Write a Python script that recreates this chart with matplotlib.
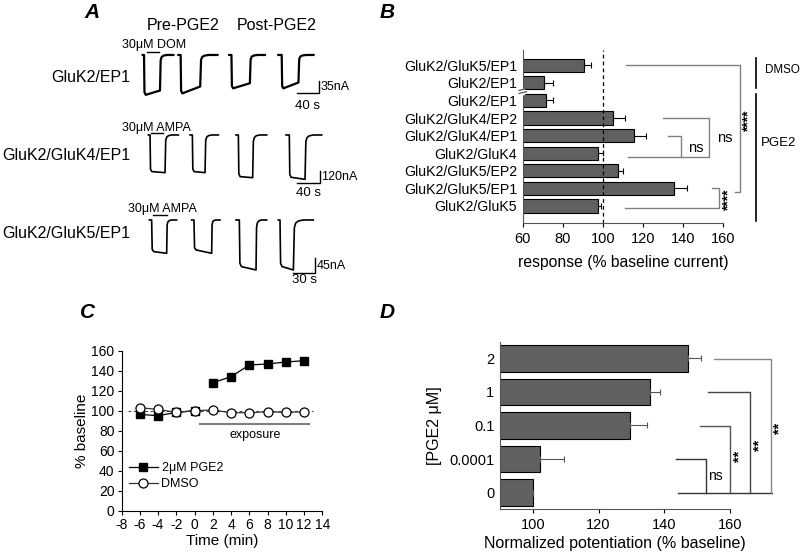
import matplotlib
matplotlib.use('Agg')
import matplotlib.pyplot as plt

plt.rcParams['font.family'] = ['Liberation Sans', 'DejaVu Sans']
plt.rcParams['axes.unicode_minus'] = False

W, H = 800, 553

# ---- panel A: traces (time in s, current in nA), one list per row ----
row1_start = [0, 64, 155, 243]
row1_on = [2.4, 68, 159, 249]
row1_off = [31, 103, 192, 279]
row1_stop = [55, 134, 219, 306]
row1_peak = [-110, -106, -92, -92]
row1_end = [-98, -87, -78, -76]

row2_start = [0, 71.4, 150.2, 235.8]
row2_on = [2.9, 75.4, 154.2, 241.5]
row2_off = [28.6, 97.1, 178.7, 268.4]
row2_stop = [51.4, 120, 202.7, 297]
row2_peak = [-356, -356, -405, -411]
row2_end = [-366, -366, -415, -431]

row3_start = [0, 58.6, 120, 178.6]
row3_on = [3.2, 61.8, 124.6, 180.9]
row3_off = [24, 86.3, 147.7, 199.4]
row3_stop = [37.8, 97.8, 162.5, 227]
row3_peak = [-95, -90, -140, -140]
row3_end = [-100, -100, -150, -150]

# ---- panel B ----
b_labels = ['GluK2/GluK5/EP1', 'GluK2/EP1', 'GluK2/EP1', 'GluK2/GluK4/EP2',
            'GluK2/GluK4/EP1', 'GluK2/GluK4', 'GluK2/GluK5/EP2',
            'GluK2/GluK5/EP1', 'GluK2/GluK5']
b_values = [90.6, 70.8, 71.5, 104.9, 115.6, 97.4, 107.5, 135.6, 97.8]
b_err = [3.4, 4.5, 3.8, 6.4, 5.9, 2.5, 2.8, 6.4, 1.2]

# ---- panel C ----
c_time = [-6, -4, -2, 0, 2, 4, 6, 8, 10, 12]
c_pge2 = [96.3, 95, 98.3, 100, 128, 134, 145.7, 146.7, 148.7, 150]
c_dmso = [103, 101.3, 98.3, 100, 100.7, 98, 98, 99, 98.3, 99]

# ---- panel D ----
d_labels = ['0', '0.0001', '0.1', '1', '2']
d_values = [100, 102.2, 129.7, 135.8, 147.1]
d_err = [0, 7.2, 4.9, 2.8, 4.1]


def box(x0, y0, x1, y1):
    return [x0 / W, 1 - y1 / H, (x1 - x0) / W, (y1 - y0) / H]


def ftxt(x, y, s, **kw):
    fig.text(x / W, 1 - y / H, s, **kw)


def trace(ax, start, on, off, stop, peak, end, lw):
    dur = stop - off
    t = [start, on, on + 0.8, on + 3, off, off + 0.05 * dur, off + 0.12 * dur,
         off + 0.25 * dur, off + 0.5 * dur, stop]
    i = [0, 0, 0.93 * peak, peak, end, 0.15 * end, 0.06 * end, 0.02 * end, 0, 0]
    ax.plot(t, i, color='black', lw=lw, solid_joinstyle='round')


fig = plt.figure(figsize=(8, 5.53), dpi=100)

# ================= A =================
rows = [
    dict(box=(140, 38.3, 330, 110), xlim=(-4.8, 335.5), ylim=(-151.8, 46),
         data=(row1_start, row1_on, row1_off, row1_stop, row1_peak, row1_end), lw=1.6,
         sb_t=276, sb_i=-106, sb_len=40, sb_amp=35, sb_units=('35nA', '40 s'),
         drug='30μM DOM', drug_t=-37.6, drug_y=27.6, app=(8.4, 29.9, 7.4),
         lab_y=-141),
    dict(box=(140, 123.3, 330, 200), xlim=(-14.3, 311.2), ylim=(-631.8, 113.4),
         data=(row2_start, row2_on, row2_off, row2_stop, row2_peak, row2_end), lw=1.2,
         sb_t=254, sb_i=-470, sb_len=40, sb_amp=120, sb_units=('120nA', '40 s'),
         drug='30μM AMPA', drug_t=-45.7, drug_y=71, app=(4, 25.7, 22.7),
         lab_y=-560),
    dict(box=(140, 203.3, 330, 283.3), xlim=(-12.9, 250.1), ylim=(-190, 50),
         data=(row3_start, row3_on, row3_off, row3_stop, row3_peak, row3_end), lw=1.2,
         sb_t=199.4, sb_i=-160, sb_len=30, sb_amp=45, sb_units=('45nA', '30 s'),
         drug='30μM AMPA', drug_t=-29, drug_y=32, app=(5.5, 24, 15),
         lab_y=-180),
]
for r in rows:
    ax = fig.add_axes(box(*r['box']))
    ax.set_xlim(*r['xlim'])
    ax.set_ylim(*r['ylim'])
    ax.axis('off')
    for tr in zip(*r['data']):
        trace(ax, *tr, lw=r['lw'])
    t0, i0 = r['sb_t'], r['sb_i']
    L, A = r['sb_len'], r['sb_amp']
    ax.plot([t0, t0 + L, t0 + L], [i0, i0, i0 + A], color='black', lw=1.0, clip_on=False)
    ax.text(t0 + L + 2, i0 + A / 2, r['sb_units'][0], fontsize=9, va='center', ha='left')
    ax.text(t0 + L / 2, r['lab_y'], r['sb_units'][1], fontsize=9.5, va='center', ha='center')
    ax.text(r['drug_t'], r['drug_y'], r['drug'], fontsize=9, va='center', ha='left',
            clip_on=False)
    a0, a1, ay = r['app']
    ax.plot([a0, a1], [ay, ay], color='black', lw=1.0)

ftxt(130, 77, 'GluK2/EP1', fontsize=11.5, ha='right', va='center')
ftxt(130, 155, 'GluK2/GluK4/EP1', fontsize=11.5, ha='right', va='center')
ftxt(130, 233, 'GluK2/GluK5/EP1', fontsize=11.5, ha='right', va='center')
ftxt(183, 25, 'Pre-PGE2', fontsize=11.5, ha='center', va='center')
ftxt(277, 25, 'Post-PGE2', fontsize=11.5, ha='center', va='center')

# ================= B =================
axb = fig.add_axes(box(522.7, 50, 723, 222.7))
yb = list(range(len(b_labels)))
axb.barh(yb, b_values, height=0.75, color='#606060', edgecolor='black', lw=0.8,
         xerr=[[0] * len(b_err), b_err], capsize=2.5,
         error_kw=dict(ecolor='black', elinewidth=0.8, capthick=0.8))
axb.set_xlim(60, 160)
axb.set_ylim(8.95, -0.87)
axb.set_yticks(yb)
axb.set_yticklabels(b_labels, fontsize=10.2)
axb.tick_params(axis='y', length=0, pad=4)
axb.set_xticks([60, 80, 100, 120, 140, 160])
axb.tick_params(axis='x', labelsize=10.5, length=3, width=0.8)
for s in ['top', 'right']:
    axb.spines[s].set_visible(False)
axb.spines['left'].set_color('#555555')
axb.spines['bottom'].set_color('#555555')
axb.axvline(100, color='black', lw=0.9, dashes=(3, 2.5))
axb.set_xlabel('response (% baseline current)', fontsize=11.3, labelpad=7)

# axis break between DMSO and PGE2 groups
tr = axb.get_yaxis_transform()
axb.plot([0, 0], [1.38, 1.55], color='white', lw=2.5, transform=tr, clip_on=False, zorder=5)
axb.plot([-0.018, 0.018], [1.43, 1.33], color='#444444', lw=0.8, transform=tr,
         clip_on=False, zorder=6)
axb.plot([-0.018, 0.018], [1.6, 1.5], color='#444444', lw=0.8, transform=tr,
         clip_on=False, zorder=6)

gc = '#808080'
kw = dict(color=gc, lw=1.0, clip_on=False)
axb.plot([111.8, 168.3, 168.3, 165.8], [0, 0, 7.2, 7.2], **kw)
axb.plot([130.1, 153, 153, 112.7], [3.0, 3.0, 5.2, 5.2], **kw)
axb.plot([132.6, 138.9, 138.9], [4.0, 4.0, 5.2], **kw)
axb.plot([154.7, 157.8, 157.8, 111], [7.0, 7.0, 8.1, 8.1], **kw)
axb.text(160.8, 4.15, 'ns', fontsize=10.5, ha='center', va='center')
axb.text(146.4, 4.72, 'ns', fontsize=10.5, ha='center', va='center')
axb.text(172.8, 3.2, '****', fontsize=10, fontweight='bold', rotation=90,
         ha='center', va='center')
axb.text(162.6, 7.66, '****', fontsize=10, fontweight='bold', rotation=90,
         ha='center', va='center')
axb.plot([176.6, 176.6], [-0.44, 1.27], color='black', lw=1.2, clip_on=False)
axb.plot([176.6, 176.6], [1.65, 8.85], color='black', lw=1.2, clip_on=False)
ftxt(799.5, 70, 'DMSO', fontsize=8.4, ha='right', va='center')
ftxt(761, 143, 'PGE2', fontsize=9.5, ha='left', va='center')

# ================= C =================
axc = fig.add_axes(box(121.5, 350.7, 322.3, 510.7))
axc.set_xlim(-8, 14)
axc.set_ylim(0, 160)
axc.set_xticks(range(-8, 15, 2))
axc.set_yticks(range(0, 161, 20))
axc.tick_params(labelsize=10, length=3, width=0.8, pad=2)
for s in ['top', 'right']:
    axc.spines[s].set_visible(False)
axc.plot([-7.3, 13], [100, 100], color='#444444', lw=0.8, dashes=(2.5, 2.5))
axc.plot(c_time[:4], c_pge2[:4], color='black', lw=0.9, marker='s', ms=6,
         mfc='black', mec='black', zorder=3)
axc.plot(c_time[4:], c_pge2[4:], color='black', lw=0.9, marker='s', ms=6,
         mfc='black', mec='black', zorder=3, label='2μM PGE2')
axc.plot(c_time, c_dmso, color='#333333', lw=0.9, marker='o', ms=6.5,
         mfc='white', mec='black', mew=0.9, zorder=4, label='DMSO')
axc.plot([0.6, 12.5], [86.3, 86.3], color='#808080', lw=1.5)
axc.text(6.6, 76, 'exposure', fontsize=9, ha='center', va='center')
axc.legend(loc='lower left', bbox_to_anchor=(0.0, 0.08), frameon=False, fontsize=9,
           handlelength=2.3, handletextpad=0.3, borderaxespad=0.2, labelspacing=0.35)
axc.set_xlabel('Time (min)', fontsize=11, labelpad=2)
axc.set_ylabel('% baseline', fontsize=11, labelpad=2)

# ================= D =================
axd = fig.add_axes(box(500, 341.7, 730, 509.3))
yd = list(range(len(d_labels)))
axd.barh(yd, d_values, height=0.8, color='#606060', edgecolor='black', lw=0.8,
         xerr=[[0] * len(d_err), d_err], capsize=2.5,
         error_kw=dict(ecolor='#555555', elinewidth=0.8, capthick=0.8))
axd.set_xlim(90, 160)
axd.set_ylim(-0.5, 4.5)
axd.set_yticks(yd)
axd.set_yticklabels(d_labels, fontsize=10.5)
axd.tick_params(axis='y', length=0, pad=4)
axd.set_xticks([100, 120, 140, 160])
axd.tick_params(axis='x', labelsize=10.5, length=3, width=0.8)
for s in ['top', 'right']:
    axd.spines[s].set_visible(False)
axd.spines['left'].set_color('#555555')
axd.spines['bottom'].set_color('#555555')
axd.set_xlabel('Normalized potentiation (% baseline)', fontsize=11.5, labelpad=3)
axd.set_ylabel('[PGE2 μM]', fontsize=11.5, labelpad=5)

axd.plot([144.3, 172.7], [0, 0], color='#333333', lw=1.0, clip_on=False)
axd.plot([143.7, 152.6, 152.6], [0.99, 0.99, 0], color='#333333', lw=1.0, clip_on=False)
axd.plot([150.9, 160.0, 160.0], [1.99, 1.99, 0], color='#555555', lw=1.0, clip_on=False)
axd.plot([153.4, 166.1, 166.1], [2.99, 2.99, 0], color='#444444', lw=1.0, clip_on=False)
axd.plot([155.1, 172.5, 172.5], [3.98, 3.98, 0], color='#888888', lw=1.0, clip_on=False)
axd.text(155.4, 0.48, 'ns', fontsize=10, ha='center', va='center')
axd.text(162.9, 1.07, '**', fontsize=10.5, fontweight='bold', rotation=90,
         ha='center', va='center')
axd.text(169.0, 1.42, '**', fontsize=10.5, fontweight='bold', rotation=90,
         ha='center', va='center')
axd.text(175.1, 1.92, '**', fontsize=10.5, fontweight='bold', rotation=90,
         ha='center', va='center')

# panel letters
for x, y, s in [(92, 13, 'A'), (387, 12, 'B'), (88, 312, 'C'), (387, 313, 'D')]:
    ftxt(x, y, s, fontsize=15, fontweight='bold', fontstyle='italic',
         ha='center', va='center')

fig.savefig('out.png', dpi=100)
